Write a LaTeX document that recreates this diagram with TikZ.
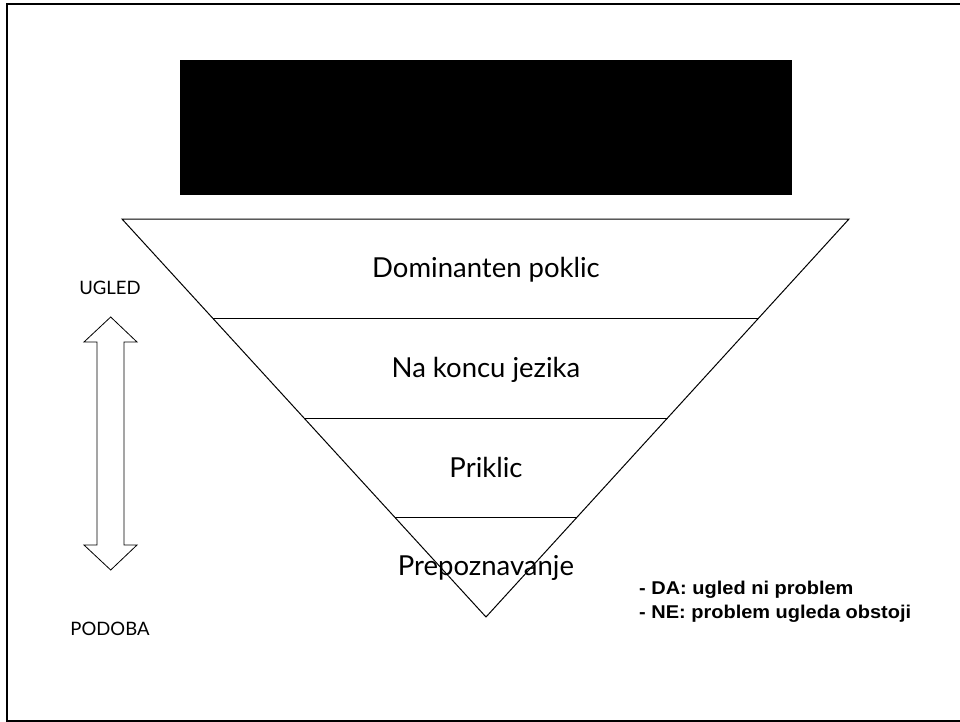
\documentclass[tikz,border=0pt]{standalone}
\usepackage{fontspec}
\setmainfont{Lato}
\newfontfamily\notefont[FakeStretch=1.08]{Liberation Sans}
\usetikzlibrary{positioning,calc}
\tikzstyle{layer} = [inner sep=0pt, anchor=base, font=\fontsize{27.5}{32}\selectfont]
\tikzstyle{side} = [inner sep=0pt, anchor=base, font=\fontsize{18.5}{22}\selectfont]
\tikzstyle{note} = [inner sep=0pt, anchor=base west, font=\notefont\bfseries\fontsize{18.5}{22}\selectfont]
\tikzstyle{edge} = [draw, line width=1pt]

\begin{document}
\begin{tikzpicture}[x=1pt, y=-1pt]
		\useasboundingbox (0,0) rectangle (960,722);
		% Frame and title block
		\draw [line width=2pt] (7,4) rectangle (970,721);
		\fill [black] (180,60) rectangle (792,195);
		% Funnel
		\coordinate (tl) at (122,219);
		\coordinate (tr) at (849,219);
		\coordinate (tip) at (486,617);
		\path [edge] (tl) -- (tr) -- (tip) -- cycle;
		\path [edge] ($(tl)!0.249!(tip)$) -- ($(tr)!0.249!(tip)$);
		\path [edge] ($(tl)!0.500!(tip)$) -- ($(tr)!0.500!(tip)$);
		\path [edge] ($(tl)!0.749!(tip)$) -- ($(tr)!0.749!(tip)$);
		% Layer labels
		\node [layer] (dominant) at (486,277) {Dominanten poklic};
		\node [layer] (tongue) at (486,377) {Na koncu jezika};
		\node [layer] (recall) at (486,477) {Priklic};
		\node [layer] (recog) at (486,575) {Prepoznavanje};
		% Side scale
		\node [side] (ugled) at (110,294) {UGLED};
		\node [side] (podoba) at (110,635) {PODOBA};
		\draw [line width=0.8pt] (110.7,317) -- (137,342) -- (124,342) -- (124,545) -- (137,545)
			-- (110.7,570) -- (84,545) -- (97,545) -- (97,342) -- (84,342) -- cycle;
		% Notes
		\node [note] (da) at (639,594) {- DA: ugled ni problem};
		\node [note] (ne) at (639,618) {- NE: problem ugleda obstoji};
	\end{tikzpicture}
\end{document}
